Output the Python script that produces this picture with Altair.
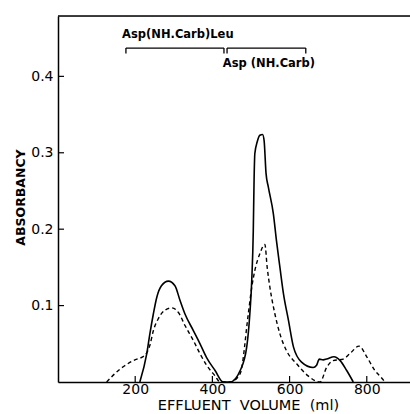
import altair as alt
import pandas as pd

# Solid curve (ml, absorbancy)
solid_ml = [212, 230, 238, 247, 256, 268, 286, 303, 316, 329, 351, 368, 385, 407, 428,
            446, 472, 489, 497, 502, 506, 508, 510, 516, 523, 530, 534, 539, 545, 558,
            566, 575, 584, 597, 610, 631, 661, 670, 677, 687, 696, 715, 731, 748, 765]
solid_abs = [0, 0.037, 0.063, 0.089, 0.111, 0.126, 0.132, 0.126, 0.107, 0.089, 0.067, 0.050, 0.032, 0.015, 0,
             0, 0.015, 0.046, 0.089, 0.133, 0.199, 0.264, 0.299, 0.314, 0.323, 0.324, 0.316, 0.273, 0.255, 0.220,
             0.185, 0.150, 0.116, 0.081, 0.046, 0.026, 0.019, 0.022, 0.030, 0.029, 0.030, 0.033, 0.028, 0.015, 0]

# Dashed curve
dash_ml = [126, 161, 195, 225, 238, 247, 260, 277, 295, 312, 329, 351, 368, 385, 407, 420,
           446, 472, 493, 502, 510, 523, 536, 542, 549, 562, 575, 592, 618, 648, 679,
           696, 713, 739, 756, 780, 800, 821, 839, 847]
dash_abs = [0, 0.017, 0.028, 0.035, 0.048, 0.067, 0.083, 0.094, 0.097, 0.091, 0.074, 0.054, 0.037, 0.022, 0.008, 0,
            0, 0.011, 0.089, 0.124, 0.146, 0.168, 0.180, 0.150, 0.124, 0.089, 0.063, 0.041, 0.024, 0.008, 0,
            0.019, 0.028, 0.030, 0.037, 0.047, 0.033, 0.015, 0.005, 0]

x_ticks = [200, 400, 600, 800]
y_ticks = [0.1, 0.2, 0.3, 0.4]

# Brackets (start, end) in ml and their level
bracket_start = [176, 438]
bracket_end = [430, 642]
bracket_level = 0.437
bracket_drop = 0.430

label_text = ["Asp(NH.Carb)Leu", "Asp (NH.Carb)"]
label_x = [166, 427]
label_y = [0.454, 0.416]

XDOM = [0, 912]
YDOM = [0, 0.479]

solid_df = pd.DataFrame({"ml": solid_ml, "a": solid_abs})
dash_df = pd.DataFrame({"ml": dash_ml, "a": dash_abs})

xs = alt.Scale(domain=XDOM, nice=False, zero=False)
ys = alt.Scale(domain=YDOM, nice=False, zero=False)

FONT = "DejaVu Sans"
NB = "\u00a0"

x_axis = alt.Axis(values=x_ticks, tickSize=0, grid=False, labelFont=FONT, labelFontSize=14,
                  labelColor="black", labelPadding=0, domainColor="black", domainWidth=1.5,
                  title=f"EFFLUENT{NB}{NB}VOLUME{NB}{NB}(ml)", titleFont=FONT, titleFontSize=14.5,
                  titleFontWeight="normal", titleColor="black", titleX=190, titleY=23,
                  titleAlign="center", titleBaseline="middle", labelFlush=False)
y_axis = alt.Axis(values=y_ticks, format=".1f", tickSize=0, grid=False, labelFont=FONT,
                  labelFontSize=14, labelColor="black", labelPadding=5, domainColor="black",
                  domainWidth=1.5, title="ABSORBANCY", titleFont=FONT, titleFontSize=12.5,
                  titleFontWeight="bold", titleColor="black", titleX=-38, titleY=181,
                  titleAngle=270, titleAlign="center", titleBaseline="middle")

solid = alt.Chart(solid_df).mark_line(color="black", strokeWidth=1.6, interpolate="monotone").encode(
    x=alt.X("ml:Q", scale=xs, axis=x_axis),
    y=alt.Y("a:Q", scale=ys, axis=y_axis),
)
dashed = alt.Chart(dash_df).mark_line(color="black", strokeWidth=1.4, strokeDash=[4, 3],
                                      interpolate="monotone").encode(
    x=alt.X("ml:Q", scale=xs),
    y=alt.Y("a:Q", scale=ys),
)

xt = alt.Chart(pd.DataFrame({"t": x_ticks})).mark_rule(color="black", strokeWidth=1.2).encode(
    x=alt.X("t:Q", scale=xs), y=alt.value(366), y2=alt.value(360))
yt = alt.Chart(pd.DataFrame({"t": y_ticks})).mark_rule(color="black", strokeWidth=1.2).encode(
    y=alt.Y("t:Q", scale=ys), x=alt.value(0), x2=alt.value(6))

top = alt.Chart(pd.DataFrame({"k": [0]})).mark_rule(color="black", strokeWidth=1.5).encode(
    x=alt.value(0), x2=alt.value(352), y=alt.value(0))

br_df = pd.DataFrame({"s": bracket_start, "e": bracket_end,
                      "lv": [bracket_level] * 2, "dr": [bracket_drop] * 2})
br_h = alt.Chart(br_df).mark_rule(color="black", strokeWidth=1.3).encode(
    x=alt.X("s:Q", scale=xs), x2="e:Q", y=alt.Y("lv:Q", scale=ys))
br_l = alt.Chart(br_df).mark_rule(color="black", strokeWidth=1.3).encode(
    x=alt.X("s:Q", scale=xs), y=alt.Y("lv:Q", scale=ys), y2="dr:Q")
br_r = alt.Chart(br_df).mark_rule(color="black", strokeWidth=1.3).encode(
    x=alt.X("e:Q", scale=xs), y=alt.Y("lv:Q", scale=ys), y2="dr:Q")

lab = alt.Chart(pd.DataFrame({"t": label_text, "x": label_x, "y": label_y})).mark_text(
    align="left", baseline="middle", font=FONT, fontSize=11.5, fontWeight="bold", color="black"
).encode(x=alt.X("x:Q", scale=xs), y=alt.Y("y:Q", scale=ys), text="t:N")

chart = alt.layer(solid, dashed, xt, yt, top, br_h, br_l, br_r, lab).properties(
    width=352, height=366,
    padding={"left": 58, "top": 16, "right": 0, "bottom": 32},
    autosize=alt.AutoSizeParams(type="none"),
).configure_view(strokeWidth=0).configure(background="white")

chart.save("out.html", embed_options={"renderer": "svg", "actions": False})
